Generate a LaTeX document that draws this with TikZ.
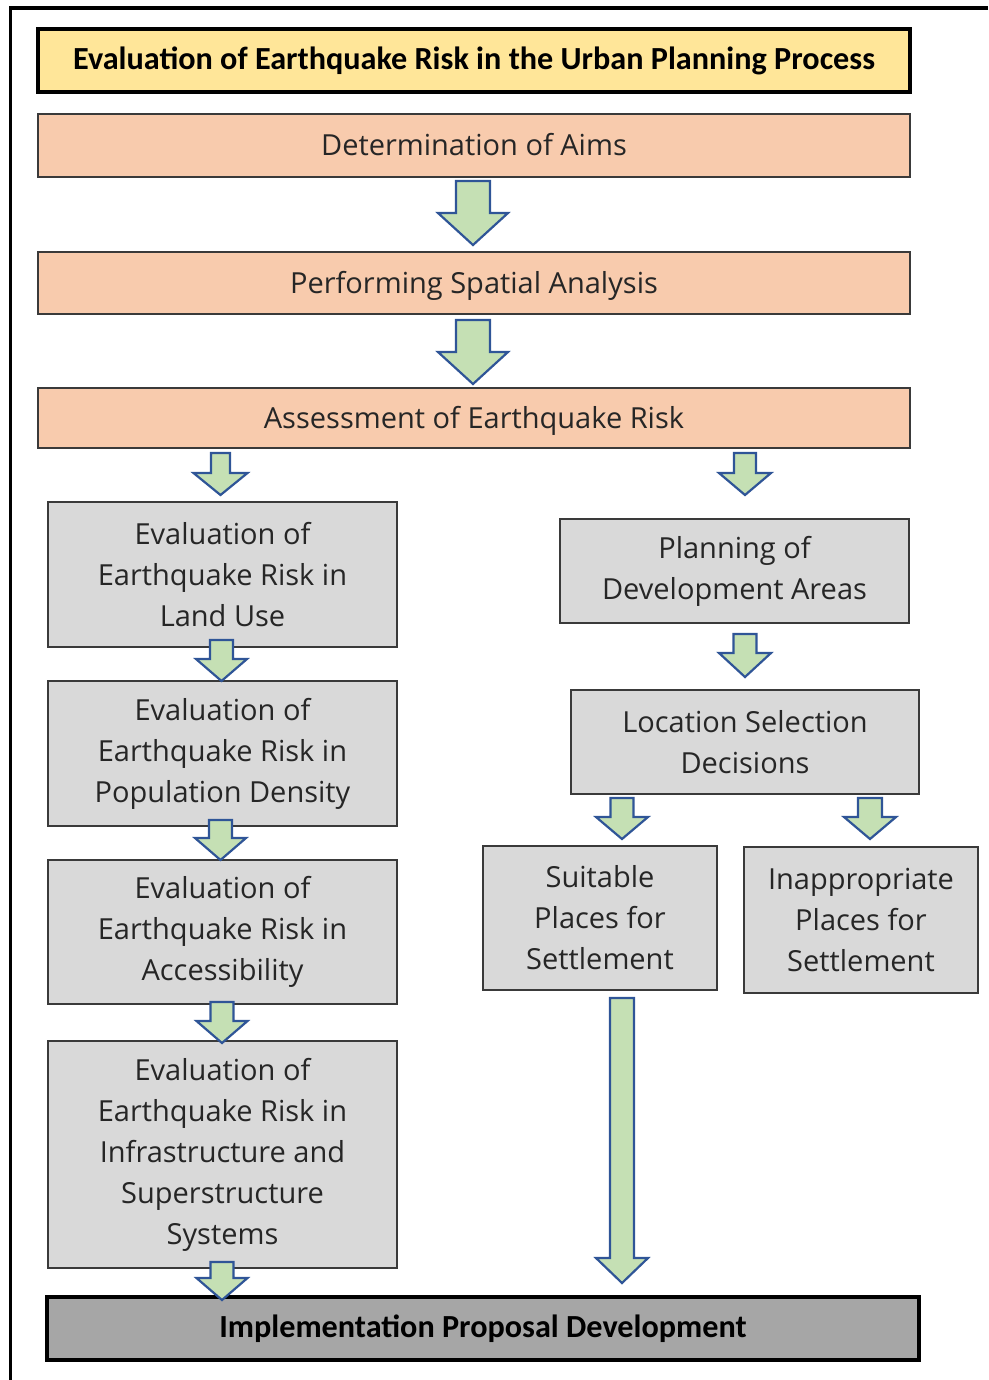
\documentclass[tikz,border=0pt]{standalone}
\usepackage{fontspec}
\usetikzlibrary{calc}
\newfontfamily\boxfont{Open Sans}
\newfontfamily\headfont{Carlito}

\definecolor{titlefill}{HTML}{FFE699}
\definecolor{peach}{HTML}{F8CBAD}
\definecolor{lightgray}{HTML}{D9D9D9}
\definecolor{darkgray}{HTML}{A6A6A6}
\definecolor{arrowfill}{HTML}{C5E0B4}
\definecolor{arrowline}{HTML}{2F5597}
\definecolor{boxline}{HTML}{3A3A3A}
\definecolor{boxtext}{HTML}{262626}

% Block arrow pointing down: #1 start point (gives x and top y), #2 tip point (gives tip y),
% #3 half shaft width, #4 half head width, #5 head length
\newcommand{\blockdown}[5]{%
  \draw[blockarrow] let \p1=#1, \p2=#2 in
    (\x1-#3pt,\y1) -- (\x1+#3pt,\y1) -- (\x1+#3pt,\y2+#5pt) -- (\x1+#4pt,\y2+#5pt)
    -- (\x1,\y2) -- (\x1-#4pt,\y2+#5pt) -- (\x1-#3pt,\y2+#5pt) -- cycle;}

\tikzset{
  box/.style={draw=boxline, line width=1.5pt, rectangle, inner sep=0pt, outer sep=0pt,
    align=center, text=boxtext, font=\boxfont\fontsize{29}{41}\selectfont},
  stagebox/.style={box, fill=peach, minimum width=872pt, minimum height=62pt,
    text height=21pt, text depth=0pt},
  evalbox/.style={box, fill=lightgray, minimum width=349pt},
  sidebox/.style={box, fill=lightgray},
  headbox/.style={draw=black, line width=4.5pt, rectangle, inner sep=0pt, outer sep=0pt,
    minimum width=872pt, minimum height=63pt, text=black,
    font=\headfont\bfseries\fontsize{32.2}{38}\selectfont},
  blockarrow/.style={draw=arrowline, fill=arrowfill, line width=2.2pt, line join=miter}
}

\begin{document}
\begin{tikzpicture}[x=1pt,y=-1pt]
\useasboundingbox (0,0) rectangle (988,1380);

% outer frame
\draw[line width=3.5pt] (10.5,1380) -- (10.5,8) -- (988,8);

% main sequence
\node[headbox, fill=titlefill] (title) at (474,60.5)
  {Evaluation of Earthquake Risk in the Urban Planning Process};
\node[stagebox, minimum height=63pt] (aims) at (474,145.5) {Determination of Aims};
\node[stagebox] (spatial) at (474,283) {Performing Spatial Analysis};
\node[stagebox, minimum height=60pt] (assess) at (474,418) {Assessment of Earthquake Risk};

% left column
\node[evalbox, minimum height=145pt] (landuse) at (222.5,574.5)
  {Evaluation of\\Earthquake Risk in\\Land Use};
\node[evalbox, minimum height=145pt] (popden) at (222.5,753.5)
  {Evaluation of\\Earthquake Risk in\\Population Density};
\node[evalbox, minimum height=144pt] (access) at (222.5,932)
  {Evaluation of\\Earthquake Risk in\\Accessibility};
\node[evalbox, minimum height=227pt] (infra) at (222.5,1154.5)
  {Evaluation of\\Earthquake Risk in\\Infrastructure and\\Superstructure\\Systems};

% right column
\node[sidebox, minimum width=349pt, minimum height=104pt] (planning) at (734.5,571)
  {Planning of\\Development Areas};
\node[sidebox, minimum width=348pt, minimum height=104pt] (location) at (745,742)
  {Location Selection\\Decisions};
\node[sidebox, minimum width=234pt, minimum height=144pt] (suitable) at (600,918)
  {Suitable\\Places for\\Settlement};
\node[sidebox, minimum width=234pt, minimum height=146pt] (inapprop) at (861,920)
  {Inappropriate\\Places for\\Settlement};

% result
\node[headbox, fill=darkgray] (implement) at (483,1328.5)
  {Implementation Proposal Development};

% connecting block arrows
\blockdown{($(aims.south)+(-1,4)$)}{($(spatial.north)+(0,-7)$)}{17}{35}{32}
\blockdown{($(spatial.south)+(-1,6)$)}{($(assess.north)+(0,-4)$)}{17}{35}{32}
\blockdown{($(landuse.north |- assess.south)+(-2,5)$)}{($(landuse.north)+(0,-7)$)}{9.5}{27}{22}
\blockdown{($(location.north |- assess.south)+(0,5)$)}{($(planning.north)+(0,-24)$)}{11}{26}{22}
\blockdown{($(landuse.south)+(-1,-7)$)}{(popden.north)}{11.5}{25.5}{22}
\blockdown{($(popden.south)+(-2,-6)$)}{(access.north)}{11.5}{25.5}{22}
\blockdown{($(access.south)+(-0.5,-2)$)}{($(infra.north)+(0,2)$)}{11.5}{25.5}{22}
\blockdown{($(infra.south)+(-0.5,-6)$)}{($(implement.north)+(0,3)$)}{11.5}{25.5}{22}
\blockdown{($(location.north |- planning.south)+(0,11)$)}{($(location.north)+(0,-13)$)}{11.5}{26}{24}
\blockdown{($(location.south)+(-123,4)$)}{($(suitable.north)+(0,-7)$)}{11.5}{26}{22}
\blockdown{($(location.south)+(125,4)$)}{($(suitable.north)+(0,-7)$)}{12}{26}{22}
\blockdown{($(location.south |- suitable.south)+(-123,8)$)}{($(implement.north)+(0,-14)$)}{12}{26}{25}
\end{tikzpicture}
\end{document}
